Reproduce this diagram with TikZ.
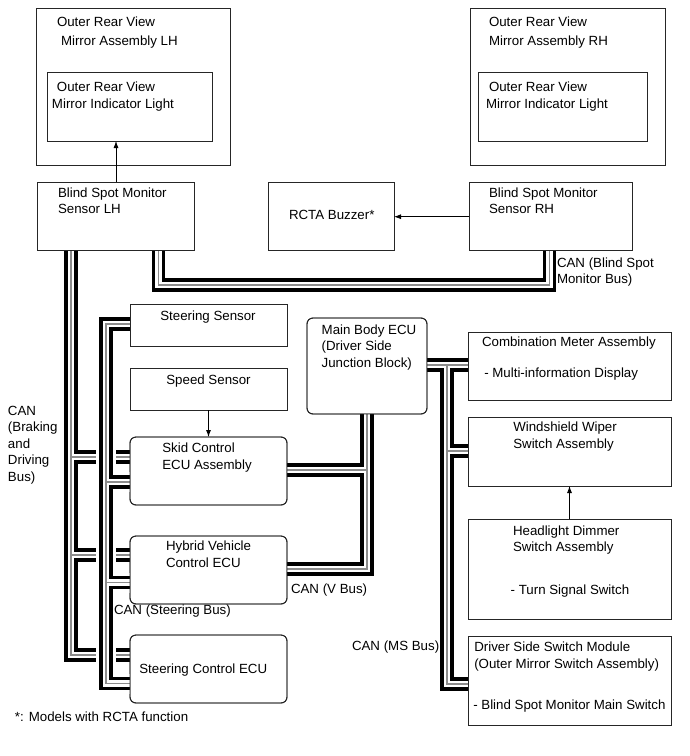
\documentclass[tikz,border=0pt]{standalone}
\usepackage{fontspec}
\setmainfont{Liberation Sans}
\usetikzlibrary{arrows.meta}
\newcommand\ml[1]{\begin{tabular}[t]{@{}l@{}}#1\end{tabular}}
\newcommand\busnet[1]{\draw[busblack] #1; \draw[buswhite] #1; \draw[busgray] #1;}
\begin{document}
\begin{tikzpicture}[x=1pt,y=-1pt,
  every node/.style={inner sep=0pt, outer sep=0pt, font=\fontsize{13.3}{16.5}\selectfont},
  box/.style={draw=black!85, line width=0.9pt, anchor=north west},
  rbox/.style={box, rounded corners=6pt},
  outline/.style={draw=black!85, line width=0.9pt},
  txt/.style={anchor=base west},
  ctxt/.style={anchor=base},
  arr/.style={line width=0.8pt, -{Latex[length=7pt,width=5pt]}},
  busblack/.style={line width=13.5pt, black},
  buswhite/.style={line width=6.5pt, white},
  busgray/.style={line width=1.1pt, black!45},
  busunder/.style={line width=20pt, white},
]
\useasboundingbox (0,0) rectangle (690,756);

% boxes
\node[box, minimum width=194pt, minimum height=157pt] (mirL) at (36,8) {};
\node[box, minimum width=165pt, minimum height=69pt] (indL) at (47,72) {};
\node[box, minimum width=195pt, minimum height=157pt] (mirR) at (470,8) {};
\node[box, minimum width=169pt, minimum height=69pt] (indR) at (478,72) {};
\node[box, minimum width=157pt, minimum height=68pt] (bsmL) at (37,182) {};
\node[box, minimum width=126pt, minimum height=68pt] (buzz) at (268,182) {};
\node[box, minimum width=163pt, minimum height=68pt] (bsmR) at (469,182) {};
\node[box, minimum width=157pt, minimum height=42pt] (steerS) at (130,304) {};
\node[box, minimum width=157pt, minimum height=42pt] (speedS) at (130,368) {};
\node[rbox, minimum width=157pt, minimum height=68pt] (skid) at (130,437) {};
\node[rbox, minimum width=157pt, minimum height=68pt] (hv) at (130,536) {};
\node[rbox, minimum width=157pt, minimum height=68pt] (sce) at (130,635) {};
\node[rbox, minimum width=120pt, minimum height=96pt] (mbe) at (307,318) {};
\node[box, minimum width=203pt, minimum height=68pt] (cmt) at (468,332) {};
\node[box, minimum width=203pt, minimum height=69pt] (wip) at (468,417) {};
\node[box, minimum width=203pt, minimum height=100pt] (hdl) at (468,519) {};
\node[box, minimum width=203pt, minimum height=89pt] (dss) at (468,636) {};

% bus coordinates
\coordinate (cBl1) at (158.5,0);
\coordinate (cBl2) at (549.5,0);
\coordinate (rBl) at (0,285);
\coordinate (cBr) at (71,0);
\coordinate (rBrSkid) at (0,457);
\coordinate (rBrHv) at (0,555);
\coordinate (rBrSce) at (0,655);
\coordinate (cSt) at (106,0);
\coordinate (rStS) at (0,324);
\coordinate (rStSkid) at (0,482);
\coordinate (rStHv) at (0,582.5);
\coordinate (rStSce) at (0,683.5);
\coordinate (cV) at (367,0);
\coordinate (rVSkid) at (0,470);
\coordinate (rVHv) at (0,569);
\coordinate (cMS) at (447,0);
\coordinate (rMS) at (0,365);
\coordinate (rMSWip) at (0,451);
\coordinate (rMSDss) at (0,684);

% buses
\busnet{(cBl1 |- bsmL.south) -- (cBl1 |- rBl) -- (cBl2 |- rBl) -- (cBl2 |- bsmR.south)}
\busnet{(cBr |- bsmL.south) -- (cBr |- rBrSce) -- (sce.west |- rBrSce)
        (cBr |- rBrSkid) -- (skid.west |- rBrSkid)
        (cBr |- rBrHv) -- (hv.west |- rBrHv)}
\busnet{(cV |- mbe.south) -- (cV |- rVHv) -- (hv.east |- rVHv)
        (cV |- rVSkid) -- (skid.east |- rVSkid)}
\busnet{(mbe.east |- rMS) -- (cmt.west |- rMS)
        (cMS |- rMS) -- (cMS |- rMSDss) -- (dss.west |- rMSDss)
        (cMS |- rMSWip) -- (wip.west |- rMSWip)}
\draw[busunder] (steerS.west |- rStS) -- (cSt |- rStS) -- (cSt |- rStSce) -- (sce.west |- rStSce)
        (cSt |- rStSkid) -- (skid.west |- rStSkid)
        (cSt |- rStHv) -- (hv.west |- rStHv);
\busnet{(steerS.west |- rStS) -- (cSt |- rStS) -- (cSt |- rStSce) -- (sce.west |- rStSce)
        (cSt |- rStSkid) -- (skid.west |- rStSkid)
        (cSt |- rStHv) -- (hv.west |- rStHv)}

% box outlines on top of the bus ends
\foreach \n in {bsmL,bsmR,steerS,cmt,wip,dss}{
  \draw[outline] (\n.north west) rectangle (\n.south east);
}
\foreach \n in {skid,hv,sce,mbe}{
  \draw[outline, rounded corners=6pt] (\n.north west) rectangle (\n.south east);
}

% arrows
\coordinate (aL) at (116,0);
\coordinate (aB) at (0,216.7);
\draw[arr] (bsmL.north -| aL) -- (indL.south -| aL);
\draw[arr] (bsmR.west |- aB) -- (buzz.east |- aB);
\draw[arr] (speedS.south) -- (skid.north);
\draw[arr] (hdl.north) -- (wip.south);

% texts
\node[txt] (tMirL1) at (57,26.5) {Outer Rear View};
\node[txt] (tMirL2) at (61,45) {Mirror Assembly LH};
\node[txt] (tIndL) at (52,91.5) {\ml{\hspace{5pt}Outer Rear View\\Mirror Indicator Light}};
\node[txt] (tMirR1) at (489,26.5) {Outer Rear View};
\node[txt] (tMirR2) at (489,45) {Mirror Assembly RH};
\node[txt] (tIndR) at (486,91.5) {\ml{\hspace{3pt}Outer Rear View\\Mirror Indicator Light}};
\node[txt] (tBsmL) at (58,197.3) {\ml{Blind Spot Monitor\\Sensor LH}};
\node[txt] (tBsmR) at (489,197.3) {\ml{Blind Spot Monitor\\Sensor RH}};
\node[txt] (tBuzz) at (289,219) {RCTA Buzzer*};
\node[txt] (tCanBl) at (557,267) {\ml{CAN (Blind Spot\\Monitor Bus)}};
\node[ctxt] (tSteerS) at (208,320.5) {Steering Sensor};
\node[ctxt] (tSpeedS) at (208.5,384) {Speed Sensor};
\node[txt] (tSkid) at (162.3,452.5) {\ml{Skid Control\\ECU Assembly}};
\node[txt] (tHv) at (166,550.5) {\ml{Hybrid Vehicle\\Control ECU}};
\node[txt] (tSce) at (139.3,673) {Steering Control ECU};
\node[txt] (tCanSt) at (114,614) {CAN (Steering Bus)};
\node[txt] (tCanV) at (291,593) {CAN (V Bus)};
\node[txt] (tMbe) at (321.7,334) {\ml{Main Body ECU\\(Driver Side\\Junction Block)}};
\node[txt] (tCanBr) at (8,415) {\ml{CAN\\(Braking\\and\\Driving\\Bus)}};
\node[txt] (tCmt1) at (482,346.5) {Combination Meter Assembly};
\node[txt] (tCmt2) at (484.3,377) {- Multi-information Display};
\node[txt] (tWip) at (513.3,431.5) {\ml{Windshield Wiper\\Switch Assembly}};
\node[txt] (tHdl1) at (513,535) {\ml{Headlight Dimmer\\Switch Assembly}};
\node[txt] (tHdl2) at (510.7,594.5) {- Turn Signal Switch};
\node[txt] (tDss1) at (474.3,651.5) {\ml{Driver Side Switch Module\\(Outer Mirror Switch Assembly)}};
\node[txt] (tDss2) at (473.3,709) {- Blind Spot Monitor Main Switch};
\node[txt] (tCanMS) at (352,650) {CAN (MS Bus)};
\node[txt] (tNote) at (15,721) {*: Models with RCTA function};
\end{tikzpicture}
\end{document}
